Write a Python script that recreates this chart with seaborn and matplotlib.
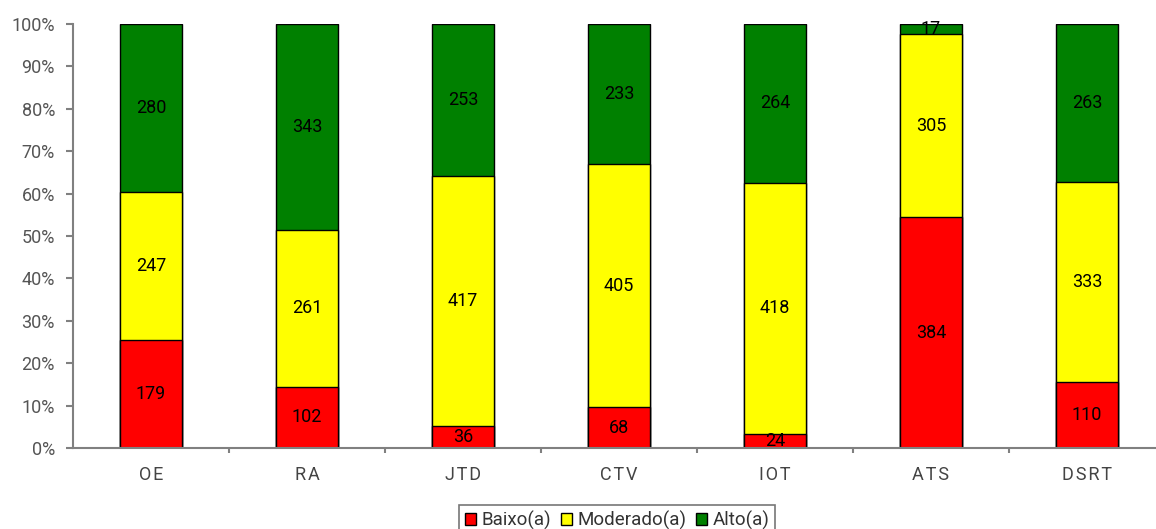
import numpy as np
import pandas as pd
import seaborn as sns
import matplotlib.pyplot as plt
from matplotlib.patches import Patch

categories = ["OE", "RA", "JTD", "CTV", "IOT", "ATS", "DSRT"]
baixo = [179, 102, 36, 68, 24, 384, 110]
moderado = [247, 261, 417, 405, 418, 305, 333]
alto = [280, 343, 253, 233, 264, 17, 263]
series_names = ["Baixo(a)", "Moderado(a)", "Alto(a)"]
colors = ["#ff0000", "#ffff00", "#008000"]

sns.set_theme(style="white")
plt.rcParams['font.family'] = ['Roboto', 'DejaVu Sans']

df = pd.DataFrame({"cat": categories, "b": baixo, "m": moderado, "a": alto})
total = df[["b", "m", "a"]].sum(axis=1)
df["pb"] = df["b"] / total * 100
df["pm"] = df["m"] / total * 100
df["pa"] = df["a"] / total * 100
df["cum_b"] = df["pb"]
df["cum_m"] = df["pb"] + df["pm"]
df["cum_a"] = df["cum_m"] + df["pa"]

fig = plt.figure(figsize=(11.56, 5.29), dpi=100)
ax = fig.add_axes([73 / 1156, 81 / 529, 1 - 73 / 1156, 424 / 529])

# stacked look: draw cumulative heights from the top down
for col, c in [("cum_a", colors[2]), ("cum_m", colors[1]), ("cum_b", colors[0])]:
    sns.barplot(data=df, x="cat", y=col, color=c, width=0.4, saturation=1,
                edgecolor="black", linewidth=1, ax=ax)

# segment labels
for i, row in df.iterrows():
    starts = [0, row["cum_b"], row["cum_m"]]
    heights = [row["pb"], row["pm"], row["pa"]]
    vals = [row["b"], row["m"], row["a"]]
    for s, h, v in zip(starts, heights, vals):
        ax.text(i, s + h / 2, str(int(v)), ha="center", va="center",
                fontsize=13, color="black")

ax.set_yticks(np.arange(0, 101, 10))
ax.set_yticklabels([f"{t}%" for t in range(0, 101, 10)])
ax.set_xticks(range(len(categories)))
ax.set_xticklabels(["\u200a".join(c) for c in categories])
ax.set_xticks(np.arange(0.5, len(categories) - 1, 1), minor=True)
ax.set_xlim(-0.5, -0.5 + (1156 - 73) / 156)
ax.set_ylim(0, 100)
ax.set_xlabel("")
ax.set_ylabel("")

for s in ["top", "right"]:
    ax.spines[s].set_visible(False)
for s in ["left", "bottom"]:
    ax.spines[s].set_color("#808080")
    ax.spines[s].set_linewidth(1.5)

ax.tick_params(axis="y", which="major", direction="out", length=5, width=1.5,
               color="#808080", labelcolor="#555555", labelsize=13, left=True, pad=8)
ax.tick_params(axis="x", which="major", length=0, labelcolor="#444444",
               labelsize=13, pad=13)
ax.tick_params(axis="x", which="minor", direction="out", length=3.5, width=1.5,
               color="#808080", bottom=True)

handles = [Patch(facecolor=c, edgecolor="black", linewidth=1) for c in colors]
leg = fig.legend(handles, series_names, loc="lower center", ncol=3,
                 bbox_to_anchor=(0.534, -0.03), fontsize=13.5, frameon=True,
                 fancybox=False, edgecolor="#555555", handlelength=0.6,
                 handleheight=0.6, handletextpad=0.3, columnspacing=0.5,
                 borderpad=0.3, labelcolor="#333333")
leg.get_frame().set_linewidth(1.2)

fig.savefig("out.png", dpi=100)
